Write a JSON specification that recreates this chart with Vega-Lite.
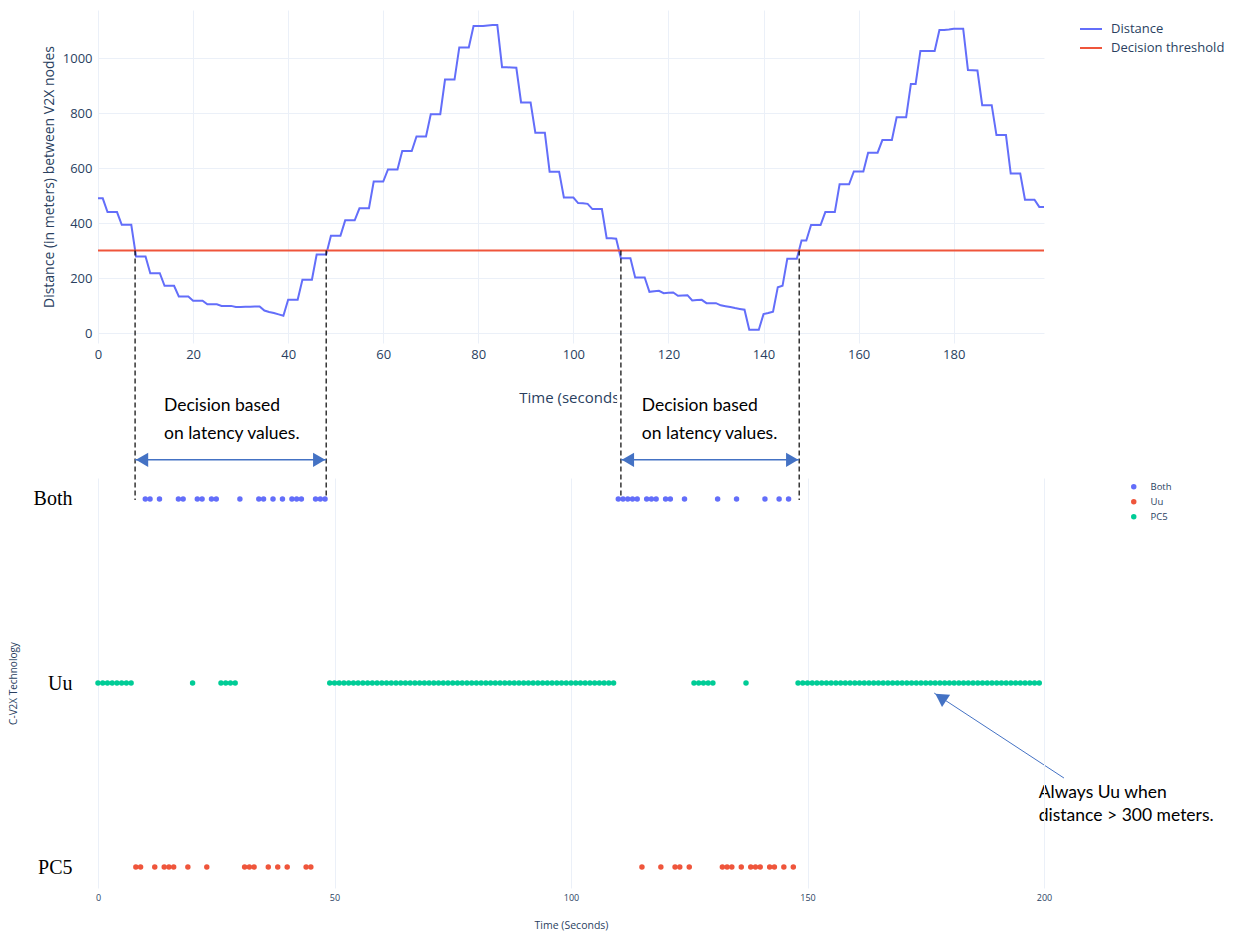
{
  "$schema": "https://vega.github.io/schema/vega-lite/v6.json",
  "background": "white",
  "padding": {"left": 8, "top": 10, "right": 5, "bottom": 5},
  "bounds": "flush",
  "spacing": 135,
  "config": {
    "view": {"stroke": null},
    "font": "Open Sans",
    "axis": {"gridColor": "#EBF0F8", "domain": false, "ticks": false, "tickSize": 0, "labelColor": "#2a3f5f", "titleColor": "#2a3f5f", "titleFontWeight": "normal", "labelFont": "Open Sans", "titleFont": "Open Sans"}
  },
  "resolve": {"scale": {"x": "independent", "y": "independent", "color": "independent"}, "legend": {"color": "independent"}},
  "datasets": {
    "distance": [
      {"t":0,"d":490},{"t":1,"d":490},{"t":2,"d":440},{"t":3,"d":440},{"t":4,"d":440},{"t":5,"d":394},{"t":6,"d":394},{"t":7,"d":394},{"t":8,"d":279},{"t":9,"d":279},
      {"t":10,"d":279},{"t":11,"d":218},{"t":12,"d":218},{"t":13,"d":218},{"t":14,"d":172},{"t":15,"d":172},{"t":16,"d":172},{"t":17,"d":133},{"t":18,"d":133},{"t":19,"d":133},
      {"t":20,"d":118},{"t":21,"d":118},{"t":22,"d":118},{"t":23,"d":105},{"t":24,"d":105},{"t":25,"d":105},{"t":26,"d":99},{"t":27,"d":99},{"t":28,"d":99},{"t":29,"d":95},
      {"t":30,"d":95},{"t":31,"d":96},{"t":32,"d":96},{"t":33,"d":97},{"t":34,"d":97},{"t":35,"d":82},{"t":36,"d":77},{"t":37,"d":73},{"t":38,"d":68},{"t":39,"d":63},
      {"t":40,"d":121},{"t":41,"d":121},{"t":42,"d":121},{"t":43,"d":194},{"t":44,"d":194},{"t":45,"d":194},{"t":46,"d":286},{"t":47,"d":286},{"t":48,"d":286},{"t":49,"d":354},
      {"t":50,"d":354},{"t":51,"d":354},{"t":52,"d":410},{"t":53,"d":410},{"t":54,"d":410},{"t":55,"d":454},{"t":56,"d":454},{"t":57,"d":454},{"t":58,"d":551},{"t":59,"d":551},
      {"t":60,"d":551},{"t":61,"d":595},{"t":62,"d":595},{"t":63,"d":595},{"t":64,"d":662},{"t":65,"d":662},{"t":66,"d":662},{"t":67,"d":715},{"t":68,"d":715},{"t":69,"d":715},
      {"t":70,"d":796},{"t":71,"d":796},{"t":72,"d":796},{"t":73,"d":922},{"t":74,"d":922},{"t":75,"d":922},{"t":76,"d":1039},{"t":77,"d":1039},{"t":78,"d":1039},{"t":79,"d":1117},
      {"t":80,"d":1117},{"t":81,"d":1117},{"t":82,"d":1119},{"t":83,"d":1120},{"t":84,"d":1120},{"t":85,"d":967},{"t":86,"d":967},{"t":87,"d":966},{"t":88,"d":965},{"t":89,"d":839},
      {"t":90,"d":839},{"t":91,"d":839},{"t":92,"d":729},{"t":93,"d":729},{"t":94,"d":729},{"t":95,"d":587},{"t":96,"d":587},{"t":97,"d":587},{"t":98,"d":493},{"t":99,"d":493},
      {"t":100,"d":493},{"t":101,"d":473},{"t":102,"d":472},{"t":103,"d":470},{"t":104,"d":451},{"t":105,"d":451},{"t":106,"d":451},{"t":107,"d":345},{"t":108,"d":345},{"t":109,"d":343},
      {"t":110,"d":272},{"t":111,"d":272},{"t":112,"d":272},{"t":113,"d":202},{"t":114,"d":202},{"t":115,"d":202},{"t":116,"d":150},{"t":117,"d":152},{"t":118,"d":154},{"t":119,"d":145},
      {"t":120,"d":147},{"t":121,"d":148},{"t":122,"d":136},{"t":123,"d":137},{"t":124,"d":138},{"t":125,"d":119},{"t":126,"d":120},{"t":127,"d":121},{"t":128,"d":109},{"t":129,"d":109},
      {"t":130,"d":109},{"t":131,"d":101},{"t":132,"d":98},{"t":133,"d":95},{"t":134,"d":91},{"t":135,"d":88},{"t":136,"d":85},{"t":137,"d":12},{"t":138,"d":12},{"t":139,"d":12},
      {"t":140,"d":69},{"t":141,"d":73},{"t":142,"d":78},{"t":143,"d":167},{"t":144,"d":172},{"t":145,"d":270},{"t":146,"d":270},{"t":147,"d":270},{"t":148,"d":337},{"t":149,"d":337},
      {"t":150,"d":393},{"t":151,"d":393},{"t":152,"d":393},{"t":153,"d":440},{"t":154,"d":440},{"t":155,"d":440},{"t":156,"d":541},{"t":157,"d":541},{"t":158,"d":541},{"t":159,"d":588},
      {"t":160,"d":588},{"t":161,"d":588},{"t":162,"d":656},{"t":163,"d":656},{"t":164,"d":656},{"t":165,"d":702},{"t":166,"d":702},{"t":167,"d":702},{"t":168,"d":785},{"t":169,"d":785},
      {"t":170,"d":785},{"t":171,"d":906},{"t":172,"d":906},{"t":173,"d":1026},{"t":174,"d":1026},{"t":175,"d":1026},{"t":176,"d":1026},{"t":177,"d":1102},{"t":178,"d":1102},{"t":179,"d":1104},
      {"t":180,"d":1107},{"t":181,"d":1107},{"t":182,"d":1107},{"t":183,"d":957},{"t":184,"d":956},{"t":185,"d":955},{"t":186,"d":829},{"t":187,"d":829},{"t":188,"d":829},{"t":189,"d":720},
      {"t":190,"d":720},{"t":191,"d":720},{"t":192,"d":580},{"t":193,"d":580},{"t":194,"d":580},{"t":195,"d":485},{"t":196,"d":485},{"t":197,"d":485},{"t":198,"d":459},{"t":199,"d":459}
    ],
    "threshold": [{"t":0,"d":300},{"t":199,"d":300}],
    "tech": [
      {"t":0,"row":"Uu","series":"PC5"},{"t":1,"row":"Uu","series":"PC5"},{"t":2,"row":"Uu","series":"PC5"},{"t":3,"row":"Uu","series":"PC5"},{"t":4,"row":"Uu","series":"PC5"},
      {"t":5,"row":"Uu","series":"PC5"},{"t":6,"row":"Uu","series":"PC5"},{"t":7,"row":"Uu","series":"PC5"},{"t":8,"row":"PC5","series":"Uu"},{"t":9,"row":"PC5","series":"Uu"},
      {"t":10,"row":"Both","series":"Both"},{"t":11,"row":"Both","series":"Both"},{"t":12,"row":"PC5","series":"Uu"},{"t":13,"row":"Both","series":"Both"},{"t":14,"row":"PC5","series":"Uu"},
      {"t":15,"row":"PC5","series":"Uu"},{"t":16,"row":"PC5","series":"Uu"},{"t":17,"row":"Both","series":"Both"},{"t":18,"row":"Both","series":"Both"},{"t":19,"row":"PC5","series":"Uu"},
      {"t":20,"row":"Uu","series":"PC5"},{"t":21,"row":"Both","series":"Both"},{"t":22,"row":"Both","series":"Both"},{"t":23,"row":"PC5","series":"Uu"},{"t":24,"row":"Both","series":"Both"},
      {"t":25,"row":"Both","series":"Both"},{"t":26,"row":"Uu","series":"PC5"},{"t":27,"row":"Uu","series":"PC5"},{"t":28,"row":"Uu","series":"PC5"},{"t":29,"row":"Uu","series":"PC5"},
      {"t":30,"row":"Both","series":"Both"},{"t":31,"row":"PC5","series":"Uu"},{"t":32,"row":"PC5","series":"Uu"},{"t":33,"row":"PC5","series":"Uu"},{"t":34,"row":"Both","series":"Both"},
      {"t":35,"row":"Both","series":"Both"},{"t":36,"row":"PC5","series":"Uu"},{"t":37,"row":"Both","series":"Both"},{"t":38,"row":"PC5","series":"Uu"},{"t":39,"row":"Both","series":"Both"},
      {"t":40,"row":"PC5","series":"Uu"},{"t":41,"row":"Both","series":"Both"},{"t":42,"row":"Both","series":"Both"},{"t":43,"row":"Both","series":"Both"},{"t":44,"row":"PC5","series":"Uu"},
      {"t":45,"row":"PC5","series":"Uu"},{"t":46,"row":"Both","series":"Both"},{"t":47,"row":"Both","series":"Both"},{"t":48,"row":"Both","series":"Both"},{"t":49,"row":"Uu","series":"PC5"},
      {"t":50,"row":"Uu","series":"PC5"},{"t":51,"row":"Uu","series":"PC5"},{"t":52,"row":"Uu","series":"PC5"},{"t":53,"row":"Uu","series":"PC5"},{"t":54,"row":"Uu","series":"PC5"},
      {"t":55,"row":"Uu","series":"PC5"},{"t":56,"row":"Uu","series":"PC5"},{"t":57,"row":"Uu","series":"PC5"},{"t":58,"row":"Uu","series":"PC5"},{"t":59,"row":"Uu","series":"PC5"},
      {"t":60,"row":"Uu","series":"PC5"},{"t":61,"row":"Uu","series":"PC5"},{"t":62,"row":"Uu","series":"PC5"},{"t":63,"row":"Uu","series":"PC5"},{"t":64,"row":"Uu","series":"PC5"},
      {"t":65,"row":"Uu","series":"PC5"},{"t":66,"row":"Uu","series":"PC5"},{"t":67,"row":"Uu","series":"PC5"},{"t":68,"row":"Uu","series":"PC5"},{"t":69,"row":"Uu","series":"PC5"},
      {"t":70,"row":"Uu","series":"PC5"},{"t":71,"row":"Uu","series":"PC5"},{"t":72,"row":"Uu","series":"PC5"},{"t":73,"row":"Uu","series":"PC5"},{"t":74,"row":"Uu","series":"PC5"},
      {"t":75,"row":"Uu","series":"PC5"},{"t":76,"row":"Uu","series":"PC5"},{"t":77,"row":"Uu","series":"PC5"},{"t":78,"row":"Uu","series":"PC5"},{"t":79,"row":"Uu","series":"PC5"},
      {"t":80,"row":"Uu","series":"PC5"},{"t":81,"row":"Uu","series":"PC5"},{"t":82,"row":"Uu","series":"PC5"},{"t":83,"row":"Uu","series":"PC5"},{"t":84,"row":"Uu","series":"PC5"},
      {"t":85,"row":"Uu","series":"PC5"},{"t":86,"row":"Uu","series":"PC5"},{"t":87,"row":"Uu","series":"PC5"},{"t":88,"row":"Uu","series":"PC5"},{"t":89,"row":"Uu","series":"PC5"},
      {"t":90,"row":"Uu","series":"PC5"},{"t":91,"row":"Uu","series":"PC5"},{"t":92,"row":"Uu","series":"PC5"},{"t":93,"row":"Uu","series":"PC5"},{"t":94,"row":"Uu","series":"PC5"},
      {"t":95,"row":"Uu","series":"PC5"},{"t":96,"row":"Uu","series":"PC5"},{"t":97,"row":"Uu","series":"PC5"},{"t":98,"row":"Uu","series":"PC5"},{"t":99,"row":"Uu","series":"PC5"},
      {"t":100,"row":"Uu","series":"PC5"},{"t":101,"row":"Uu","series":"PC5"},{"t":102,"row":"Uu","series":"PC5"},{"t":103,"row":"Uu","series":"PC5"},{"t":104,"row":"Uu","series":"PC5"},
      {"t":105,"row":"Uu","series":"PC5"},{"t":106,"row":"Uu","series":"PC5"},{"t":107,"row":"Uu","series":"PC5"},{"t":108,"row":"Uu","series":"PC5"},{"t":109,"row":"Uu","series":"PC5"},
      {"t":110,"row":"Both","series":"Both"},{"t":111,"row":"Both","series":"Both"},{"t":112,"row":"Both","series":"Both"},{"t":113,"row":"Both","series":"Both"},{"t":114,"row":"Both","series":"Both"},
      {"t":115,"row":"PC5","series":"Uu"},{"t":116,"row":"Both","series":"Both"},{"t":117,"row":"Both","series":"Both"},{"t":118,"row":"Both","series":"Both"},{"t":119,"row":"PC5","series":"Uu"},
      {"t":120,"row":"Both","series":"Both"},{"t":121,"row":"Both","series":"Both"},{"t":122,"row":"PC5","series":"Uu"},{"t":123,"row":"PC5","series":"Uu"},{"t":124,"row":"Both","series":"Both"},
      {"t":125,"row":"PC5","series":"Uu"},{"t":126,"row":"Uu","series":"PC5"},{"t":127,"row":"Uu","series":"PC5"},{"t":128,"row":"Uu","series":"PC5"},{"t":129,"row":"Uu","series":"PC5"},
      {"t":130,"row":"Uu","series":"PC5"},{"t":131,"row":"Both","series":"Both"},{"t":132,"row":"PC5","series":"Uu"},{"t":133,"row":"PC5","series":"Uu"},{"t":134,"row":"PC5","series":"Uu"},
      {"t":135,"row":"Both","series":"Both"},{"t":136,"row":"PC5","series":"Uu"},{"t":137,"row":"Uu","series":"PC5"},{"t":138,"row":"PC5","series":"Uu"},{"t":139,"row":"PC5","series":"Uu"},
      {"t":140,"row":"PC5","series":"Uu"},{"t":141,"row":"Both","series":"Both"},{"t":142,"row":"PC5","series":"Uu"},{"t":143,"row":"PC5","series":"Uu"},{"t":144,"row":"Both","series":"Both"},
      {"t":145,"row":"PC5","series":"Uu"},{"t":146,"row":"Both","series":"Both"},{"t":147,"row":"PC5","series":"Uu"},{"t":148,"row":"Uu","series":"PC5"},{"t":149,"row":"Uu","series":"PC5"},
      {"t":150,"row":"Uu","series":"PC5"},{"t":151,"row":"Uu","series":"PC5"},{"t":152,"row":"Uu","series":"PC5"},{"t":153,"row":"Uu","series":"PC5"},{"t":154,"row":"Uu","series":"PC5"},
      {"t":155,"row":"Uu","series":"PC5"},{"t":156,"row":"Uu","series":"PC5"},{"t":157,"row":"Uu","series":"PC5"},{"t":158,"row":"Uu","series":"PC5"},{"t":159,"row":"Uu","series":"PC5"},
      {"t":160,"row":"Uu","series":"PC5"},{"t":161,"row":"Uu","series":"PC5"},{"t":162,"row":"Uu","series":"PC5"},{"t":163,"row":"Uu","series":"PC5"},{"t":164,"row":"Uu","series":"PC5"},
      {"t":165,"row":"Uu","series":"PC5"},{"t":166,"row":"Uu","series":"PC5"},{"t":167,"row":"Uu","series":"PC5"},{"t":168,"row":"Uu","series":"PC5"},{"t":169,"row":"Uu","series":"PC5"},
      {"t":170,"row":"Uu","series":"PC5"},{"t":171,"row":"Uu","series":"PC5"},{"t":172,"row":"Uu","series":"PC5"},{"t":173,"row":"Uu","series":"PC5"},{"t":174,"row":"Uu","series":"PC5"},
      {"t":175,"row":"Uu","series":"PC5"},{"t":176,"row":"Uu","series":"PC5"},{"t":177,"row":"Uu","series":"PC5"},{"t":178,"row":"Uu","series":"PC5"},{"t":179,"row":"Uu","series":"PC5"},
      {"t":180,"row":"Uu","series":"PC5"},{"t":181,"row":"Uu","series":"PC5"},{"t":182,"row":"Uu","series":"PC5"},{"t":183,"row":"Uu","series":"PC5"},{"t":184,"row":"Uu","series":"PC5"},
      {"t":185,"row":"Uu","series":"PC5"},{"t":186,"row":"Uu","series":"PC5"},{"t":187,"row":"Uu","series":"PC5"},{"t":188,"row":"Uu","series":"PC5"},{"t":189,"row":"Uu","series":"PC5"},
      {"t":190,"row":"Uu","series":"PC5"},{"t":191,"row":"Uu","series":"PC5"},{"t":192,"row":"Uu","series":"PC5"},{"t":193,"row":"Uu","series":"PC5"},{"t":194,"row":"Uu","series":"PC5"},
      {"t":195,"row":"Uu","series":"PC5"},{"t":196,"row":"Uu","series":"PC5"},{"t":197,"row":"Uu","series":"PC5"},{"t":198,"row":"Uu","series":"PC5"},{"t":199,"row":"Uu","series":"PC5"}
    ],
    "dashes": [{"t":7.8,"d":300,"d2":-607},{"t":48,"d":300,"d2":-607},{"t":110,"d":300,"d2":-607},{"t":147.5,"d":300,"d2":-607}],
    "spans": [{"t":7.8,"t2":48,"d":-461},{"t":110,"t2":147.5,"d":-461}],
    "labels": [
      {"t":13.9,"d":-265,"text":"Decision based"},{"t":13.9,"d":-367,"text":"on latency values."},
      {"t":114.4,"d":-265,"text":"Decision based"},{"t":114.4,"d":-367,"text":"on latency values."},
      {"t":197.9,"d":-1672,"text":"Always Uu when"},{"t":197.9,"d":-1756,"text":"distance > 300 meters."}
    ],
    "pointer": [{"t":203.2,"d":-1618,"t2":175.9,"d2":-1309}],
    "cover": [{"t":109.2,"t2":146,"d":-190,"d2":-420}]
  },
  "vconcat": [
    {
      "width": 946,
      "height": 333,
      "encoding": {
        "x": {"field": "t", "type": "quantitative", "scale": {"domain": [0, 199], "nice": false, "zero": false},
              "axis": {"values": [0,20,40,60,80,100,120,140,160,180], "title": "Time (seconds)", "labelPadding": 5, "titlePadding": 29, "labelFontSize": 13, "titleFontSize": 15, "labelFlush": false}},
        "y": {"field": "d", "type": "quantitative", "scale": {"domain": [-36, 1175], "nice": false, "zero": false},
              "axis": {"values": [0,200,400,600,800,1000], "format": "d", "title": "Distance (in meters) between V2X nodes", "labelPadding": 6, "titlePadding": 6, "labelFontSize": 13, "titleFontSize": 14}}
      },
      "layer": [
        {"data": {"name": "cover"}, "mark": {"type": "rect", "color": "white"}, "encoding": {"x2": {"field": "t2"}, "y2": {"field": "d2"}}},
        {"data": {"name": "distance"}, "mark": {"type": "line", "strokeWidth": 2},
         "encoding": {"color": {"datum": "Distance", "scale": {"domain": ["Distance", "Decision threshold"], "range": ["#636efa", "#EF553B"]},
            "legend": {"title": null, "orient": "none", "legendX": 981, "legendY": 7, "padding": 0, "symbolType": "stroke", "symbolSize": 484, "symbolStrokeWidth": 2, "labelFontSize": 13, "labelFont": "Open Sans", "labelColor": "#2a3f5f", "labelOffset": 8, "rowPadding": -2}}}},
        {"data": {"name": "threshold"}, "mark": {"type": "line", "strokeWidth": 2}, "encoding": {"color": {"datum": "Decision threshold"}}},
        {"data": {"name": "dashes"}, "mark": {"type": "rule", "color": "black", "strokeWidth": 1.2, "strokeDash": [5, 3]}, "encoding": {"y2": {"field": "d2"}}},
        {"data": {"name": "spans"}, "mark": {"type": "rule", "color": "#4472C4", "strokeWidth": 1.5}, "encoding": {"x2": {"field": "t2"}}},
        {"data": {"name": "spans"}, "mark": {"type": "point", "shape": "triangle-left", "filled": true, "opacity": 1, "color": "#4472C4", "size": 200, "xOffset": 7}, "encoding": {}},
        {"data": {"name": "spans"}, "mark": {"type": "point", "shape": "triangle-right", "filled": true, "opacity": 1, "color": "#4472C4", "size": 200, "xOffset": -7}, "encoding": {"x": {"field": "t2", "type": "quantitative"}}},
        {"data": {"name": "pointer"}, "mark": {"type": "rule", "color": "#4472C4", "strokeWidth": 1}, "encoding": {"x2": {"field": "t2"}, "y2": {"field": "d2"}}},
        {"data": {"name": "pointer"}, "mark": {"type": "point", "shape": "triangle-up", "angle": 303, "filled": true, "opacity": 1, "color": "#4472C4", "size": 220, "xOffset": 6.5, "yOffset": 4.3},
         "encoding": {"x": {"field": "t2", "type": "quantitative"}, "y": {"field": "d2", "type": "quantitative"}}},
        {"data": {"name": "labels"}, "mark": {"type": "text", "align": "left", "baseline": "middle", "font": "Lato", "fontSize": 17.5, "color": "black"}, "encoding": {"text": {"field": "text"}}}
      ]
    },
    {
      "width": 946,
      "height": 410,
      "data": {"name": "tech"},
      "mark": {"type": "point", "filled": true, "opacity": 1, "size": 30},
      "encoding": {
        "x": {"field": "t", "type": "quantitative", "scale": {"domain": [0, 200], "nice": false, "zero": false},
              "axis": {"values": [0,50,100,150,200], "title": "Time (Seconds)", "labelPadding": 5, "titlePadding": 18, "labelFontSize": 9, "titleFontSize": 10.5, "labelFlush": false}},
        "y": {"field": "row", "type": "nominal", "scale": {"type": "point", "domain": ["Both", "Uu", "PC5"], "padding": 0.114},
              "axis": {"title": "C-V2X Technology", "labelFont": "Liberation Serif", "labelFontSize": 20, "labelColor": "black", "labelPadding": 26, "titleFontSize": 10, "titlePadding": 15}},
        "color": {"field": "series", "type": "nominal", "scale": {"domain": ["Both", "Uu", "PC5"], "range": ["#636efa", "#EF553B", "#00cc96"]},
                  "legend": {"title": null, "orient": "none", "legendX": 1031, "legendY": 4, "padding": 0, "symbolType": "circle", "symbolSize": 30, "labelFontSize": 9.5, "labelFont": "Open Sans", "labelColor": "#2a3f5f", "labelOffset": 12, "rowPadding": 4}}
      }
    }
  ]
}
